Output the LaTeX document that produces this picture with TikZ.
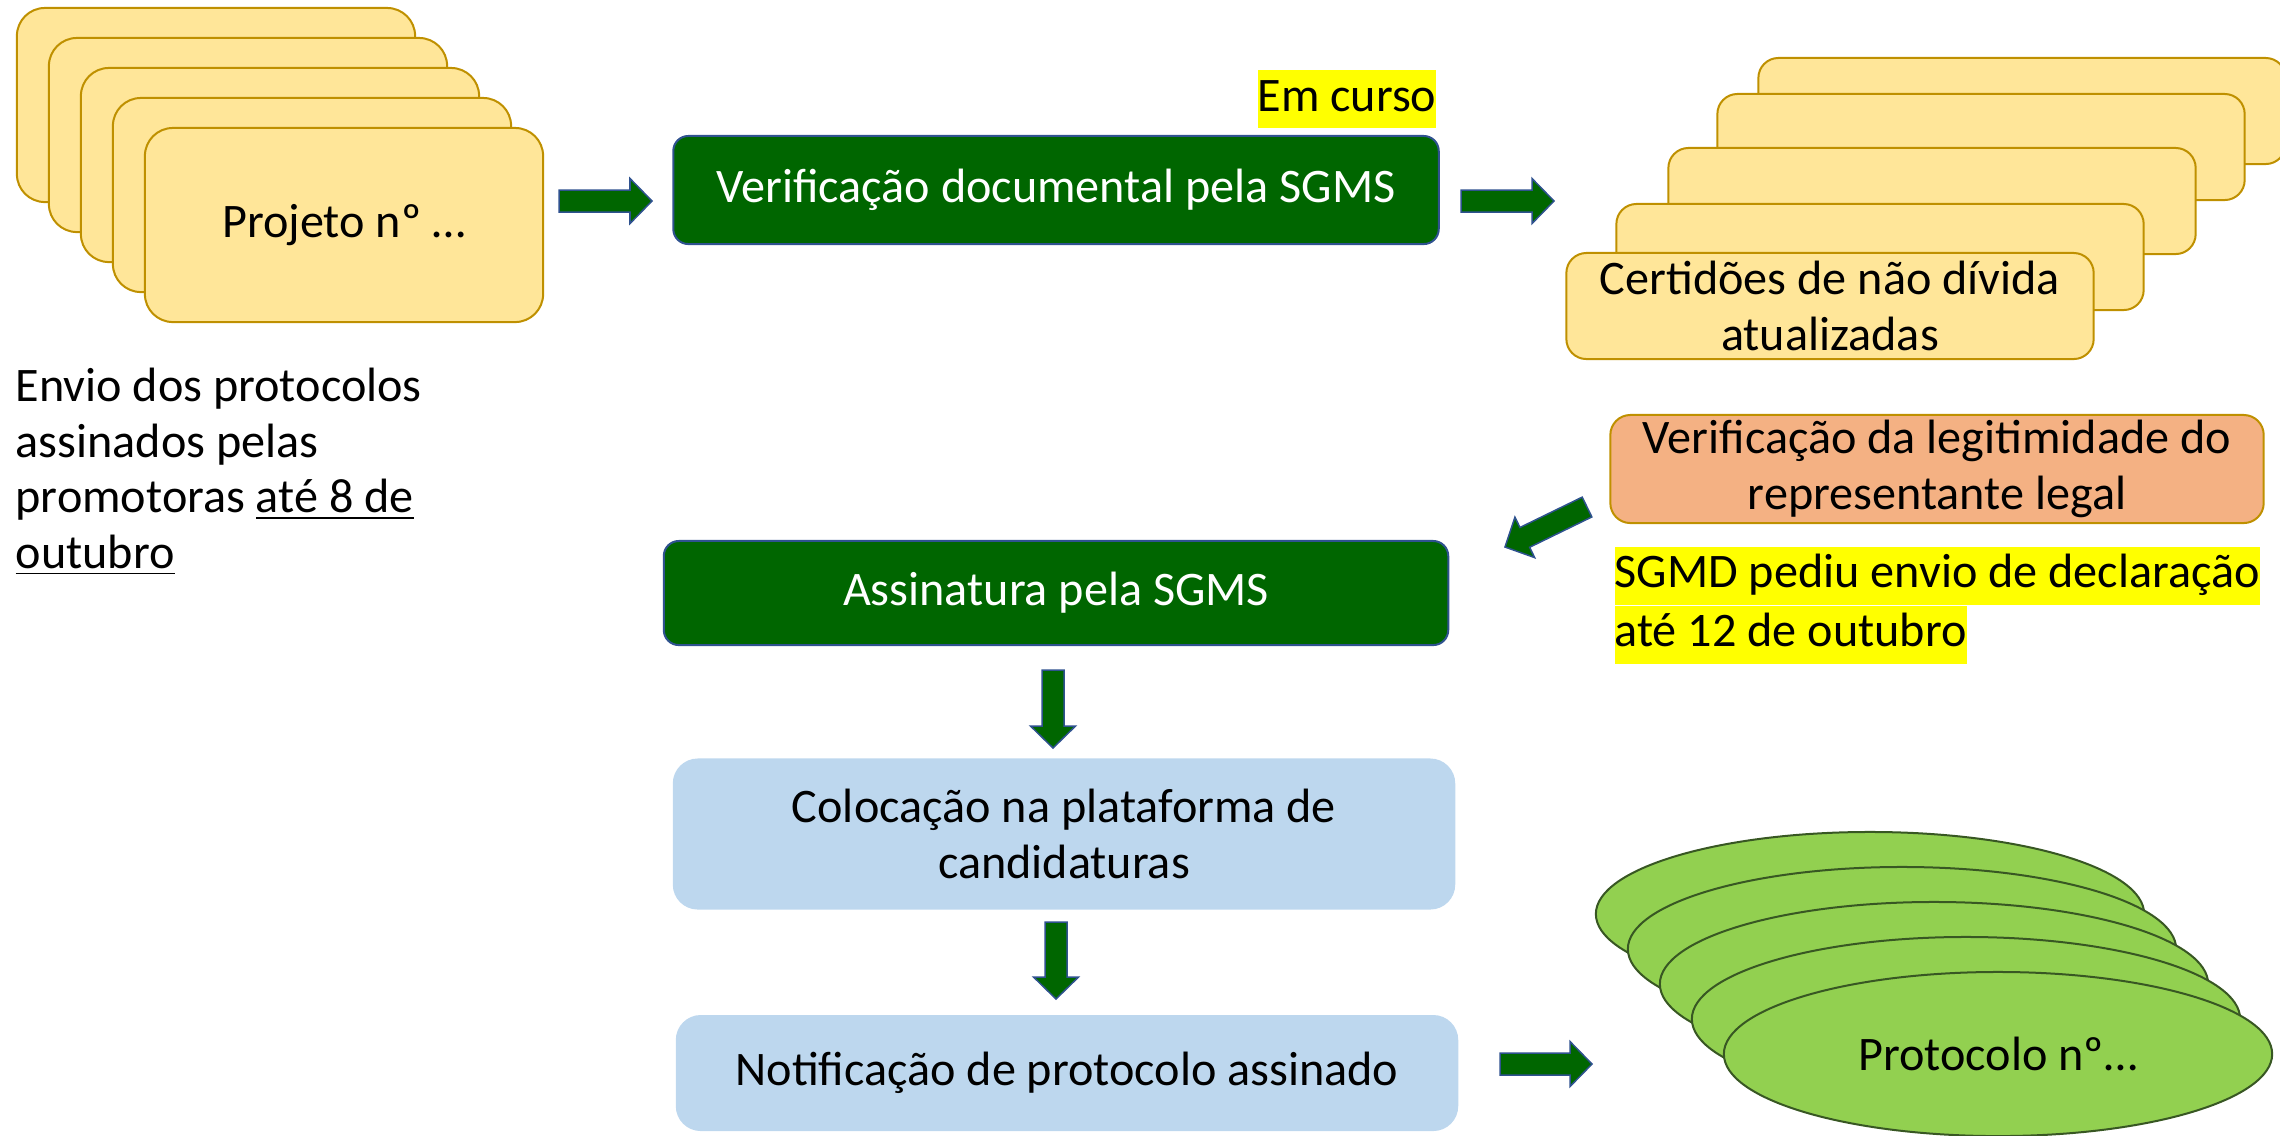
\documentclass[tikz,border=0pt]{standalone}
\usepackage{fontspec}
\setmainfont{Carlito}
\usetikzlibrary{calc}
\usetikzlibrary{shapes}
\definecolor{cardfill}{HTML}{FFE699}
\definecolor{carddraw}{HTML}{BF9000}
\definecolor{boxgreen}{HTML}{006600}
\definecolor{edgeblue}{HTML}{2F528F}
\definecolor{legalfill}{HTML}{F4B183}
\definecolor{stepblue}{HTML}{BDD7EE}
\definecolor{protofill}{HTML}{92D050}
\definecolor{protodraw}{HTML}{385723}
\definecolor{marker}{HTML}{FFFF00}
\newcommand{\blockarrow}[2]{%
	\coordinate (h) at ($(#2)!0.22cm!(#1)$);
	\filldraw[blockarrow] ($(#1)!0.11cm!90:(#2)$) -- ($(h)!0.11cm!90:(#2)$) -- ($(h)!0.225cm!90:(#2)$) -- (#2)
		-- ($(h)!0.225cm!-90:(#2)$) -- ($(h)!0.11cm!-90:(#2)$) -- ($(#1)!0.11cm!-90:(#2)$) -- cycle;}
\tikzset{
	card/.style={draw=carddraw, fill=cardfill, line width=0.02cm, rounded corners=0.28cm,
		minimum width=3.98cm, minimum height=1.94cm},
	certcard/.style={draw=carddraw, fill=cardfill, line width=0.02cm, rounded corners=0.2cm,
		minimum width=5.27cm, minimum height=1.06cm, inner sep=0pt, align=center},
	greenbox/.style={draw=edgeblue, fill=boxgreen, text=white, line width=0.02cm, rounded corners=0.15cm,
		minimum width=7.65cm, minimum height=1.08cm},
	legalbox/.style={draw=carddraw, fill=legalfill, line width=0.02cm, rounded corners=0.2cm,
		minimum width=6.53cm, minimum height=1.08cm, inner sep=0pt, align=center},
	bluebox/.style={fill=stepblue, rounded corners=0.25cm, minimum width=7.82cm, align=center},
	proto/.style={ellipse, draw=protodraw, fill=protofill, line width=0.02cm,
		minimum width=5.48cm, minimum height=1.64cm},
	highlight/.style={fill=marker, inner xsep=0pt, inner ysep=0pt, text height=0.41cm, text depth=0.17cm},
	blockarrow/.style={fill=boxgreen, draw=edgeblue, line width=0.015cm, line join=miter}
}
\begin{document}
\begin{tikzpicture}[x=0.01cm, y=-0.01cm, every node/.style={font=\fontsize{13.7}{15.8}\selectfont}]
	\useasboundingbox (0,0) rectangle (2280,1135);

	\foreach \i in {0,...,3}
		\node[card] (proj\i) at ({216+32*\i},{105+30*\i}) {};
	\node[card] (proj) at (344,225) {Projeto nº …};

	\node[anchor=west, align=left, inner sep=0pt] (envio) at (15,472)
		{Envio dos protocolos\\assinados pelas\\promotoras \underline{até 8 de}\\\underline{outubro}};

	\node[greenbox] (verif) at (1056,190) {Verificação documental pela SGMS};
	\node[highlight, anchor=south east] (emcurso) at (1437,129) {Em curso};

	\foreach \x/\y [count=\i] in {2022/111, 1981/147, 1932/201, 1880/257}
		\node[certcard] (cert\i) at (\x,\y) {};
	\node[certcard] (cert) at (1830,306) {Certidões de não dívida\\atualizadas};

	\node[legalbox] (legit) at (1937,469) {Verificação da legitimidade do\\representante legal};
	\node[highlight, anchor=north west] (sgmd1) at (1614,546) {SGMD pediu envio de declaração};
	\node[highlight, anchor=north west] (sgmd2) at (1614,605) {até 12 de outubro};

	\node[greenbox, minimum width=7.84cm, minimum height=1.04cm] (assin) at (1056,593) {Assinatura pela SGMS};
	\node[bluebox, minimum height=1.51cm] (coloc) at (1064,834) {Colocação na plataforma de\\candidaturas};
	\node[bluebox, minimum height=1.16cm] (notif) at (1067,1073) {Notificação de protocolo assinado};

	\foreach \i in {0,...,3}
		\node[proto] (prot\i) at ({1870+32*\i},{914+35*\i}) {};
	\node[proto] (prot) at (1998,1054) {Protocolo nº…};

	\coordinate (a1s) at (559,201);   \coordinate (a1e) at (652,201);
	\coordinate (a2s) at (1461,201);  \coordinate (a2e) at (1554,201);
	\coordinate (a3s) at (1587,507);  \coordinate (a3e) at (1505,547);
	\coordinate (a4s) at (1053,670);  \coordinate (a4e) at (1053,748);
	\coordinate (a5s) at (1056,922);  \coordinate (a5e) at (1056,999);
	\coordinate (a6s) at (1500,1064); \coordinate (a6e) at (1592,1064);

	\blockarrow{a1s}{a1e}
	\blockarrow{a2s}{a2e}
	\blockarrow{a3s}{a3e}
	\blockarrow{a4s}{a4e}
	\blockarrow{a5s}{a5e}
	\blockarrow{a6s}{a6e}
\end{tikzpicture}
\end{document}
